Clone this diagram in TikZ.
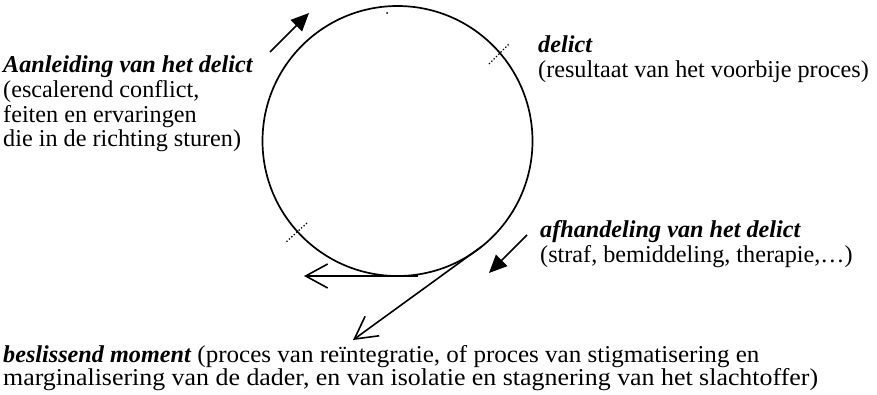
\documentclass[tikz,border=0pt]{standalone}
\usepackage{fontspec}
\setmainfont{Liberation Serif}
\usetikzlibrary{arrows.meta}
\begin{document}
\begin{tikzpicture}[x=1pt,y=-1pt,
  txt/.style={anchor=base west,inner sep=0pt,font=\fontsize{24.2}{25}\selectfont},
  hd/.style={txt,font=\fontsize{24.2}{25}\selectfont\bfseries\itshape},
  ring/.style={draw,circle,minimum size=270pt,inner sep=0pt,line width=1.7pt},
  solidtip/.style={line width=1.6pt,-{Triangle[length=18pt,width=16pt]}},
  opentip/.style={line width=1.6pt,-{Straight Barb[length=22pt,width=24pt]}},
  tick/.style={line width=1.3pt,dash pattern=on 1.3pt off 2pt}]
\useasboundingbox (0,0) rectangle (877,394);
\node[ring] (c) at (397.5,141) {};
\fill (387,13) circle (1pt);
% ticks
\coordinate (t1a) at (489,64); \coordinate (t1b) at (509,44);
\coordinate (t2a) at (307,223); \coordinate (t2b) at (285,243);
\draw[tick] (t1a) -- (t1b);
\draw[tick] (t2a) -- (t2b);
% solid arrows
\coordinate (a1s) at (270,52); \coordinate (a1e) at (309,13);
\draw[solidtip] (a1s) -- (a1e);
\coordinate (a2s) at (527,235); \coordinate (a2e) at (489,273);
\draw[solidtip] (a2s) -- (a2e);
% open arrows
\coordinate (h1s) at (418,276); \coordinate (h1e) at (304,276);
\draw[opentip] (h1s) -- (h1e);
\coordinate (d1s) at (481,247); \coordinate (d1e) at (353,340);
\draw[opentip] (d1s) -- (d1e);
% texts
\node[hd] (l1) at (3,72.7) {Aanleiding van het delict};
\node[txt] (l2) at (3,97.4) {(escalerend conflict,};
\node[txt] (l3) at (3,122.1) {feiten en ervaringen};
\node[txt] (l4) at (3,146.8) {die in de richting sturen)};
\node[hd] (r1) at (538,52) {delict};
\node[txt] (r2) at (538,77) {(resultaat van het voorbije proces)};
\node[hd] (s1) at (540,237) {afhandeling van het delict};
\node[txt] (s2) at (540,262) {(straf, bemiddeling, therapie,\ldots)};
\node[txt] (b1) at (3,362) {\textbf{\textit{beslissend moment}} \scalebox{1.035}[1]{(proces van reïntegratie, of proces van stigmatisering en}};
\node[txt] (b2) at (3,385) {\scalebox{1.07}[1]{marginalisering van de dader, en van isolatie en stagnering van het slachtoffer)}};
\end{tikzpicture}
\end{document}
